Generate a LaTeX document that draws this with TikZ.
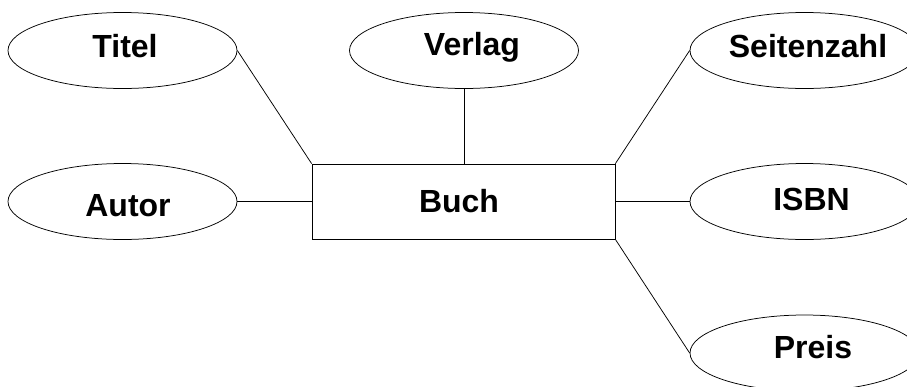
\documentclass[tikz,border=0pt]{standalone}
\usepackage{fontspec}
\setmainfont{Liberation Sans}
\usetikzlibrary{shapes.geometric}
\tikzset{
  attr/.style={ellipse, draw, line width=0.75pt, minimum width=229pt, minimum height=76pt, inner sep=0pt},
  entity/.style={rectangle, draw, line width=0.75pt, minimum width=303pt, minimum height=75pt, inner sep=0pt},
  txt/.style={anchor=base, font=\bfseries\fontsize{32}{38}\selectfont, inner sep=0pt},
  conn/.style={line width=0.75pt}
}
\begin{document}
\begin{tikzpicture}[x=1pt,y=-1pt]
\clip (0,0) rectangle (907,386);
\node[entity] (buch) at (463.5,201.5) {};
\node[attr] (titel) at (122.5,50.5) {};
\node[attr] (autor) at (122.5,201.5) {};
\node[attr] (verlag) at (464,50.5) {};
\node[attr] (seiten) at (804.5,50.5) {};
\node[attr] (isbn) at (804.5,201.5) {};
\node[attr] (preis) at (804.5,353) {};
\node[txt] (buch-t) at ([xshift=-4.5pt,yshift=-10.5pt]buch.center) {Buch};
\node[txt] (titel-t) at ([xshift=2.5pt,yshift=-6.5pt]titel.center) {Titel};
\node[txt] (autor-t) at ([xshift=5.5pt,yshift=-14.5pt]autor.center) {Autor};
\node[txt] (verlag-t) at ([xshift=8pt,yshift=-4.5pt]verlag.center) {Verlag};
\node[txt] (seiten-t) at ([xshift=3.5pt,yshift=-6.5pt]seiten.center) {Seitenzahl};
\node[txt] (isbn-t) at ([xshift=7pt,yshift=-8.5pt]isbn.center) {ISBN};
\node[txt] (preis-t) at ([xshift=8.5pt,yshift=-5pt]preis.center) {Preis};
\draw[conn] (titel.east) -- (buch.north west);
\draw[conn] (verlag.south) -- (verlag.south |- buch.north);
\draw[conn] (seiten.west) -- (buch.north east);
\draw[conn] (autor.east) -- (buch.west);
\draw[conn] (isbn.west) -- (buch.east);
\draw[conn] (preis.west) -- (buch.south east);
\end{tikzpicture}
\end{document}
